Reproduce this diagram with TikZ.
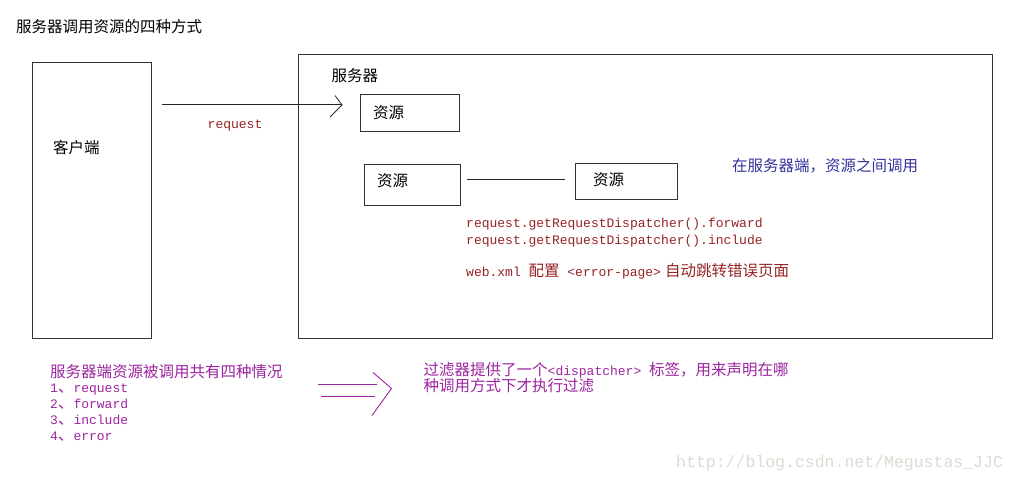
\documentclass[tikz,border=0pt]{standalone}
\usepackage{fontspec}
\newfontfamily\cjk{Noto Sans CJK SC}
\newfontfamily\mono{Liberation Mono}
\definecolor{codered}{HTML}{962424}
\definecolor{navy}{HTML}{34349C}
\definecolor{purp}{HTML}{9C24A0}
\definecolor{wm}{HTML}{DCDCD4}
\newcommand{\cn}[1]{{\cjk\fontsize{15.5pt}{16pt}\selectfont #1}}
\newcommand{\cd}[1]{{\mono\fontsize{13pt}{16pt}\selectfont #1}}
\begin{document}
\begin{tikzpicture}[x=1pt,y=-1pt,
  box/.style={draw=black!80, line width=1.1pt, inner sep=0pt, anchor=north west},
  txt/.style={inner sep=0pt, anchor=base west},
  conn/.style={draw=black!85, line width=1pt},
  pconn/.style={draw=purp, line width=0.9pt}]
\useasboundingbox[fill=white] (0,0) rectangle (1017,481);

% title
\node[txt] (title) at (16,33) {\cn{服务器调用资源的四种方式}};

% boxes
\node[box, minimum width=119pt, minimum height=276pt] (client) at (31.5,62) {};
\node[box, minimum width=694pt, minimum height=284pt] (server) at (298,54) {};
\node[box, minimum width=99pt, minimum height=37pt] (res1) at (360,94) {};
\node[box, minimum width=96pt, minimum height=41pt] (res2) at (363.5,164) {};
\node[box, minimum width=102pt, minimum height=36.5pt] (res3) at (574.5,162.7) {};

% box labels
\node[txt] (clientlbl) at (53,154) {\cn{客户端}};
\node[txt] (serverlbl) at (331.5,82) {\cn{服务器}};
\node[txt] (res1lbl) at (373,119) {\cn{资源}};
\node[txt] (res2lbl) at (377,187) {\cn{资源}};
\node[txt] (res3lbl) at (593,186) {\cn{资源}};

% request arrow
\coordinate (reqstart) at (161.5,105);
\coordinate (reqtip) at (342,105);
\coordinate (reqhu) at (335,95.5);
\coordinate (reqhl) at (330,117);
\draw[conn] (reqstart) -- (reqtip);
\draw[conn, line width=0.8pt] (reqhu) -- (reqtip) -- (reqhl);
\node[txt, text=codered] (reqlbl) at (207.5,129) {\cd{request}};

% resource connector
\coordinate (l1) at (467,179.5);
\coordinate (l2) at (565,179.5);
\draw[conn] (l1) -- (l2);

% blue note
\node[txt, text=navy] (note) at (732,172) {\cn{在服务器端，资源之间调用}};

% code lines
\node[txt, text=codered] (code1) at (466,228) {\cd{request.getRequestDispatcher().forward}};
\node[txt, text=codered] (code2) at (466,244) {\cd{request.getRequestDispatcher().include}};
\node[txt, text=codered] (code3) at (466,276) {\cd{web.xml }\cn{配置}\cd{ <error-page>}\hspace{4pt}\cn{自动跳转错误页面}};

% purple list
\node[txt, text=purp] (plh) at (50,377) {\cn{服务器端资源被调用共有四种情况}};
\node[txt, text=purp] (pl1) at (50,392) {\cd{1}\cn{、}\cd{request}};
\node[txt, text=purp] (pl2) at (50,408) {\cd{2}\cn{、}\cd{forward}};
\node[txt, text=purp] (pl3) at (50,424) {\cd{3}\cn{、}\cd{include}};
\node[txt, text=purp] (pl4) at (50,440) {\cd{4}\cn{、}\cd{error}};

% double arrow
\coordinate (da1s) at (317.5,384.5);
\coordinate (da1e) at (377,384.5);
\coordinate (da2s) at (321,396);
\coordinate (da2e) at (375,396);
\coordinate (dahu) at (373,372.5);
\coordinate (datip) at (391.5,388.5);
\coordinate (dahl) at (372,415.5);
\draw[pconn] (da1s) -- (da1e);
\draw[pconn] (da2s) -- (da2e);
\draw[pconn] (dahu) -- (datip) -- (dahl);

% filter note
\node[txt, text=purp] (f1) at (423.5,375) {\cn{过滤器提供了一个}\cd{<dispatcher> }\cn{标签，用来声明在哪}};
\node[txt, text=purp] (f2) at (423.5,391) {\cn{种调用方式下才执行过滤}};

% watermark
\node[txt, text=wm] (wmk) at (676,467) {{\mono\fontsize{16.5pt}{18pt}\selectfont http://blog.csdn.net/Megustas\_JJC}};
\end{tikzpicture}
\end{document}
